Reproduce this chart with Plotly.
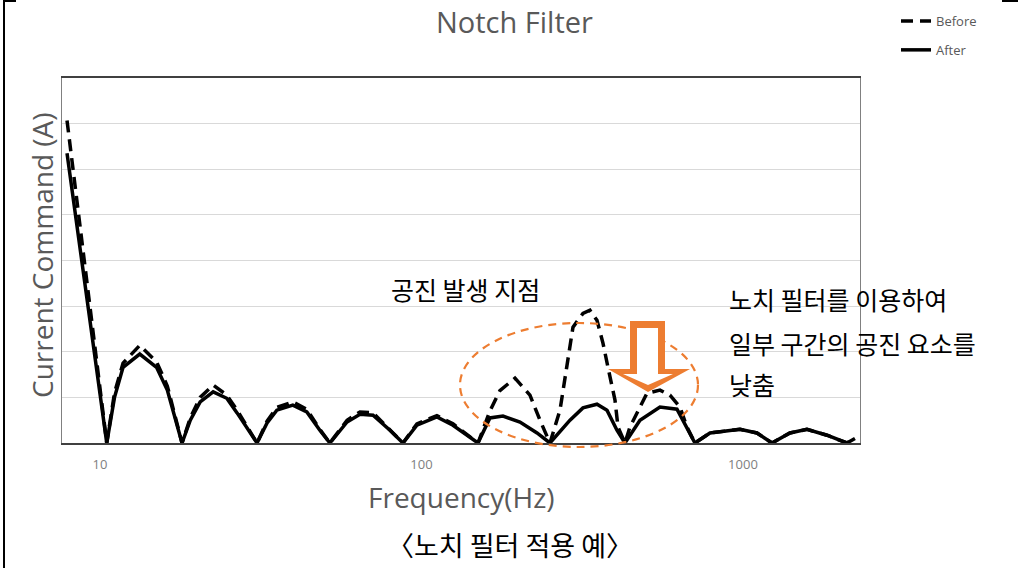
import plotly.graph_objects as go

# ---------------- data ----------------
freq_after = [7.90, 10.5, 11.1, 11.8, 13.3, 15.0, 16.2, 18.0,
              19.1, 20.5, 22.5, 24.8, 26.7, 30.8,
              33.1, 35.5, 39.8, 44.0, 48.3, 51.9,
              58.7, 64.4, 70.7, 79.8, 87.6,
              96.8, 111.7, 125.3, 149.9,
              163.3, 179.3, 202.5, 228.8, 251.0,
              289.7, 317.9, 351.5, 377.6, 405.6, 429.5,
              478.2, 551.8, 623.3, 669.5, 709.0,
              789.7, 978.8, 1105, 1231,
              1400, 1581, 1825, 2106, 2230]
amp_after = [6.35, 0, 1.0, 1.66, 1.95, 1.66, 1.16, 0,
             0.5, 0.9, 1.12, 0.98, 0.66, 0,
             0.44, 0.72, 0.83, 0.68, 0.28, 0,
             0.46, 0.63, 0.61, 0.28, 0,
             0.39, 0.57, 0.39, 0,
             0.55, 0.59, 0.46, 0.22, 0,
             0.5, 0.77, 0.85, 0.72, 0.28, 0,
             0.5, 0.79, 0.74, 0.35, 0,
             0.22, 0.3, 0.22, 0,
             0.22, 0.3, 0.17, 0, 0.1]

freq_before = [7.90, 10.5, 11.1, 11.8, 13.3, 15.0, 16.2, 18.0,
               19.1, 20.5, 22.5, 24.8, 26.7, 30.8,
               33.1, 35.5, 39.8, 44.0, 48.3, 51.9,
               58.7, 64.4, 70.7, 79.8, 87.6,
               96.8, 111.7, 125.3, 149.9,
               163.3, 175.4, 195.4, 217.5, 233.7, 251.0,
               269.7, 283.5, 296.0, 317.9, 334.3, 351.5, 366.9, 380.3, 399.9, 408.6, 429.5,
               445.2, 478.2, 502.8, 551.8, 592.9, 636.8, 669.5, 709.0,
               789.7, 978.8, 1105, 1231,
               1400, 1581, 1825, 2106, 2230]
amp_before = [7.07, 0, 1.1, 1.75, 2.14, 1.78, 1.25, 0,
              0.55, 1.0, 1.27, 1.05, 0.72, 0,
              0.48, 0.78, 0.9, 0.74, 0.3, 0,
              0.5, 0.68, 0.66, 0.3, 0,
              0.42, 0.6, 0.42, 0,
              0.7, 1.15, 1.42, 1.05, 0.5, 0,
              0.72, 1.66, 2.54, 2.84, 2.91, 2.69, 2.19, 1.66, 0.94, 0.35, 0,
              0.35, 0.79, 1.09, 1.16, 1.05, 0.79, 0.35, 0,
              0.22, 0.3, 0.22, 0,
              0.22, 0.3, 0.17, 0, 0.1]

x_tick_vals = [10, 100, 1000]
x_tick_text = ["10", "100", "1000"]

series_names = ["Before", "After"]

# ---------------- layout helpers ----------------
W, H = 1018, 568
L, R, T, B = 62, 860, 78, 443  # plot area in pixels


def px(x):
    return (x - L) / (R - L)


def py(y):
    return (B - y) / (B - T)


ORANGE = "#ED7D31"
GRAY = "#595959"
FONT = "'Open Sans', sans-serif"
KFONT = "'Noto Sans CJK KR', 'Noto Sans', sans-serif"

fig = go.Figure()
fig.add_trace(go.Scatter(x=freq_before, y=amp_before, mode="lines", name=series_names[0],
                         legendgroup="b",
                         line=dict(color="black", width=3.5, dash="12px,7px")))
fig.add_trace(go.Scatter(x=freq_after, y=amp_after, mode="lines", name=series_names[1],
                         legendgroup="a",
                         line=dict(color="black", width=3.5)))

shapes = []
# dashed ellipse
shapes.append(dict(type="circle", xref="paper", yref="paper",
                   x0=px(460), x1=px(698), y0=py(447), y1=py(323),
                   line=dict(color=ORANGE, width=2.2, dash="8px,6px"), layer="above"))


def poly(points):
    return "M " + " L ".join(f"{px(a):.5f},{py(b):.5f}" for a, b in points) + " Z"


outer = [(630, 321), (665, 321), (665, 369), (690, 369), (648, 392), (608, 369), (630, 369)]
inner = [(637, 328), (658, 328), (658, 374), (673, 374), (648, 385), (623, 374), (637, 374)]
shapes.append(dict(type="path", xref="paper", yref="paper", path=poly(outer),
                   fillcolor=ORANGE, line=dict(width=0), layer="above"))
shapes.append(dict(type="path", xref="paper", yref="paper", path=poly(inner),
                   fillcolor="white", line=dict(width=0), layer="above"))

# page border pieces
shapes.append(dict(type="line", xref="paper", yref="paper",
                   x0=px(4), x1=px(4), y0=py(0), y1=py(568), line=dict(color="black", width=2)))
shapes.append(dict(type="line", xref="paper", yref="paper",
                   x0=px(3), x1=px(16), y0=py(1), y1=py(1), line=dict(color="black", width=2)))
shapes.append(dict(type="line", xref="paper", yref="paper",
                   x0=px(1002), x1=px(1018), y0=py(1), y1=py(1), line=dict(color="black", width=2)))

annotations = [
    dict(text="Notch Filter", x=px(514), y=py(21), font=dict(size=29, color=GRAY, family=FONT)),
    dict(text="Current Command (A)", x=px(42), y=py(255), textangle=-90,
         font=dict(size=28, color=GRAY, family=FONT)),
    dict(text="Frequency(Hz)", x=px(461), y=py(497), font=dict(size=28, color=GRAY, family=FONT)),
    dict(text="〈노치 필터 적용 예〉", x=px(510), y=py(544), font=dict(size=27, color="black", family=KFONT)),
    dict(text="공진 발생 지점", x=px(465), y=py(289), font=dict(size=25, color="black", family=KFONT)),
    dict(text="노치 필터를 이용하여", x=px(727), y=py(299), xanchor="left",
         font=dict(size=25, color="black", family=KFONT)),
    dict(text="일부 구간의 공진 요소를", x=px(727), y=py(343), xanchor="left",
         font=dict(size=25, color="black", family=KFONT)),
    dict(text="낮춤", x=px(727), y=py(384), xanchor="left",
         font=dict(size=25, color="black", family=KFONT)),
]
for a in annotations:
    a.update(xref="paper", yref="paper", showarrow=False)
    a.setdefault("xanchor", "center")
    a.setdefault("yanchor", "middle")

fig.update_layout(
    width=W, height=H, autosize=False,
    margin=dict(l=L, r=W - R, t=T, b=H - B, pad=0, autoexpand=False),
    paper_bgcolor="white", plot_bgcolor="white",
    showlegend=True,
    legend=dict(x=px(896), y=py(6), xanchor="left", yanchor="top",
                font=dict(size=13, color=GRAY, family=FONT),
                traceorder="grouped", tracegroupgap=9,
                bgcolor="rgba(0,0,0,0)"),
    shapes=shapes,
    annotations=annotations,
    xaxis=dict(type="log", range=[0.882, 3.364],
               tickvals=x_tick_vals, ticktext=x_tick_text,
               tickfont=dict(size=13, color="#808080", family=FONT),
               ticks="", ticklabelstandoff=9,
               showgrid=False, zeroline=False,
               showline=True, linecolor="#404040", linewidth=1.5, mirror=True),
    yaxis=dict(range=[0, 8], dtick=1, showticklabels=False, ticks="",
               showgrid=True, gridcolor="#D9D9D9", gridwidth=1, zeroline=False,
               showline=True, linecolor="#808080", linewidth=1, mirror=True),
)

fig.write_html("out.html", config={"displayModeBar": False},
               post_script="document.body.style.margin='0';document.body.style.overflow='hidden';")
